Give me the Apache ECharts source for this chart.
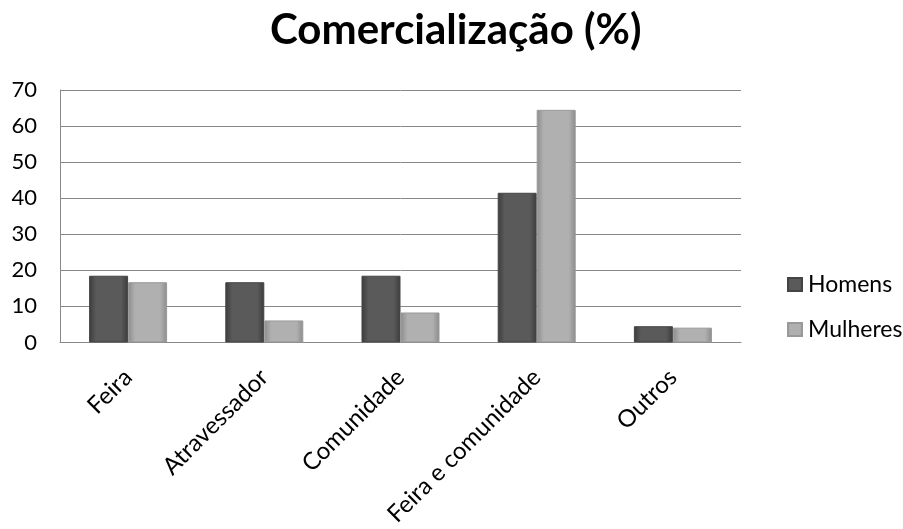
<!DOCTYPE html>
<html>
<head>
<meta charset="utf-8">
<script src="https://cdn.jsdelivr.net/npm/echarts@6/dist/echarts.min.js"></script>
<style>
  html, body { margin: 0; padding: 0; background: #fff; }
  #chart { width: 903px; height: 529px; }
</style>
</head>
<body>
<div id="chart"></div>
<script>
// dados
const categorias = ["Feira", "Atravessador", "Comunidade", "Feira e comunidade", "Outros"];
const homens = [18.5, 16.7, 18.5, 41.5, 4.5];
const mulheres = [16.7, 6.1, 8.3, 64.5, 4.1];
const yTicks = [0, 10, 20, 30, 40, 50, 60, 70];

const fonte = "Lato, 'Open Sans', sans-serif";

// gradiente horizontal para imitar o efeito bisel das barras
function bisel(borda, meio) {
  return new echarts.graphic.LinearGradient(0, 0, 1, 0, [
    { offset: 0, color: borda },
    { offset: 0.18, color: meio },
    { offset: 0.82, color: meio },
    { offset: 1, color: borda }
  ]);
}

const myChart = echarts.init(document.getElementById("chart"));

myChart.setOption({
  backgroundColor: "#fff",
  animation: false,
  title: {
    text: "Comercialização (%)",
    left: 265,
    top: 4,
    textStyle: { fontFamily: fonte, fontWeight: "bold", fontSize: 42, color: "#000" }
  },
  legend: {
    orient: "vertical",
    left: 782,
    top: 268,
    itemWidth: 14,
    itemHeight: 13,
    itemGap: 22,
    icon: "rect",
    textStyle: { fontFamily: fonte, fontSize: 23, color: "#000", padding: [0, 0, 0, 1] },
    data: ["Homens", "Mulheres"]
  },
  grid: { left: 60, right: 162, top: 90, bottom: 185 },
  xAxis: {
    type: "category",
    data: categorias,
    axisLine: { lineStyle: { color: "#888", width: 1 } },
    axisTick: { show: false },
    axisLabel: {
      rotate: 45,
      margin: 31,
      interval: 0,
      fontFamily: fonte,
      fontSize: 24,
      color: "#000"
    }
  },
  yAxis: {
    type: "value",
    min: yTicks[0],
    max: yTicks[yTicks.length - 1],
    interval: 10,
    axisLine: { show: true, lineStyle: { color: "#888", width: 1 } },
    axisTick: { show: false },
    splitLine: { lineStyle: { color: "#888", width: 1 } },
    axisLabel: { margin: 23, fontFamily: fonte, fontSize: 22, color: "#000" }
  },
  series: [
    {
      name: "Homens",
      type: "bar",
      data: homens,
      barWidth: 39,
      barGap: "0%",
      itemStyle: { color: bisel("#3c3c3c", "#5a5a5a"), borderColor: "#444", borderWidth: 1 }
    },
    {
      name: "Mulheres",
      type: "bar",
      data: mulheres,
      barWidth: 39,
      itemStyle: { color: bisel("#8c8c8c", "#b0b0b0"), borderColor: "#999", borderWidth: 1 }
    }
  ]
});
</script>
</body>
</html>
